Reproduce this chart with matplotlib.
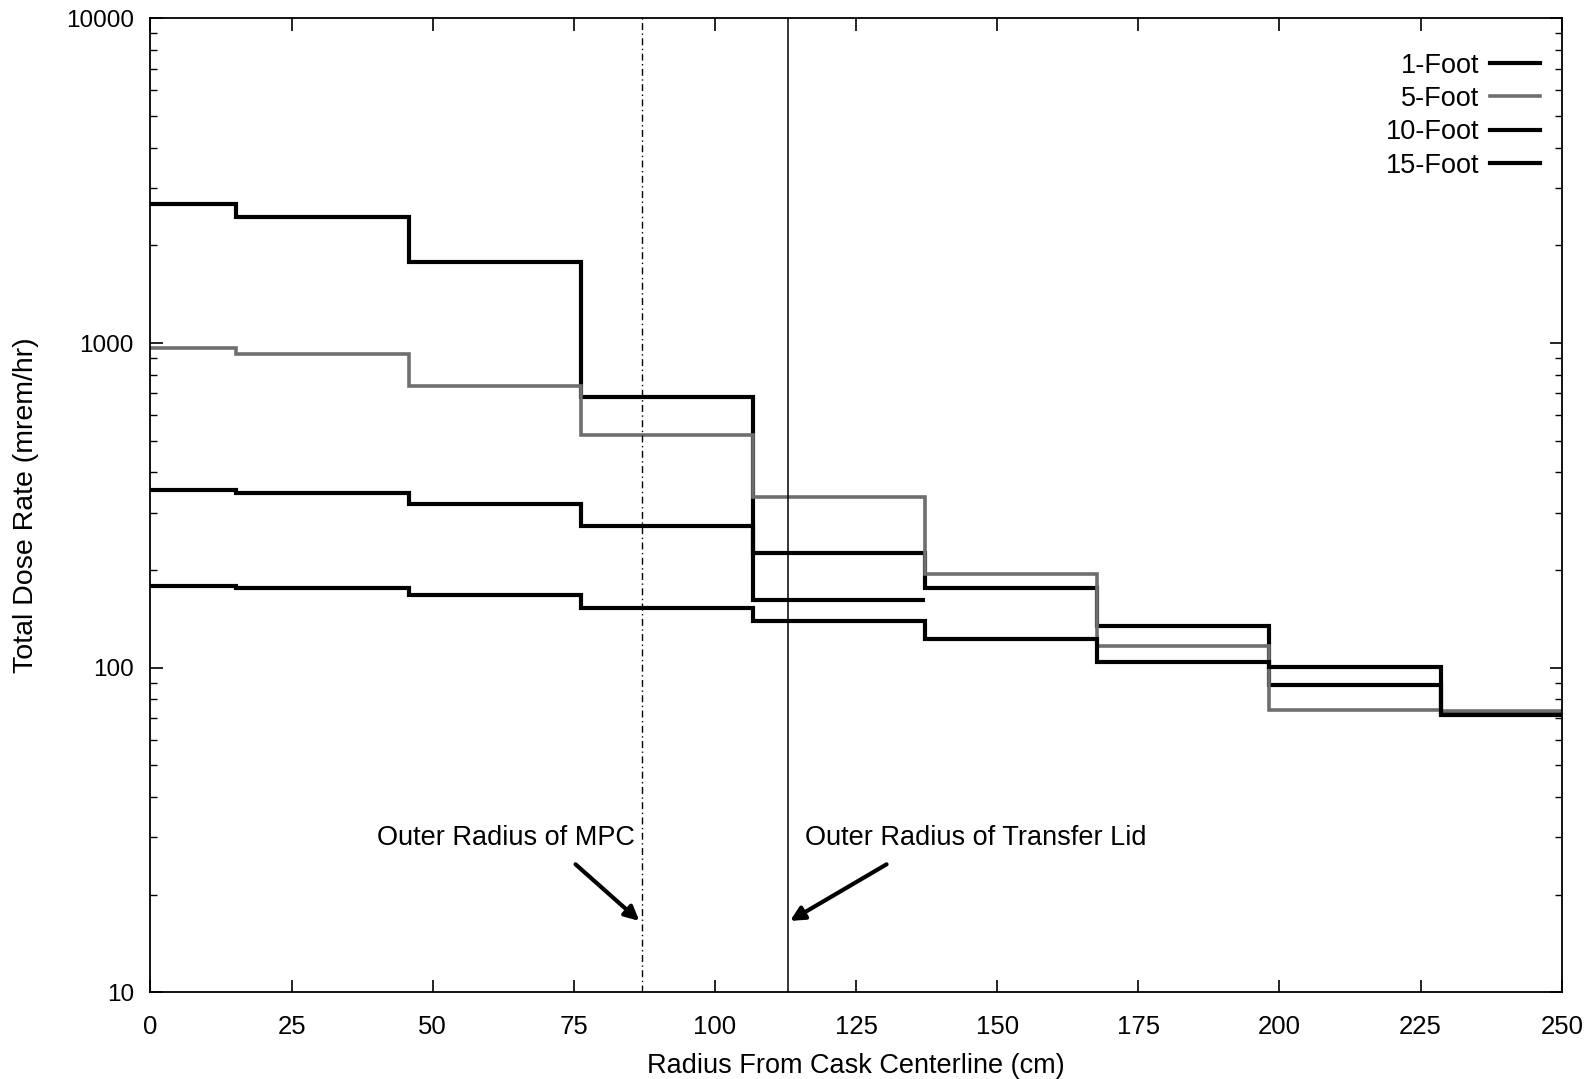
import numpy as np
import matplotlib
matplotlib.use("Agg")
import matplotlib.pyplot as plt
from matplotlib.ticker import LogLocator, NullFormatter

plt.rcParams['font.family'] = ['Liberation Sans', 'DejaVu Sans']

#### data ####
# bin edges (cm) - 6 inch first bin, then 12 inch bins
edges = [0, 15.24, 45.72, 76.2, 106.68, 137.16, 167.64, 198.12, 228.6, 250]

dose_1ft = [2683, 2445, 1782, 684, 226, 176, 134.5, 88.4, 72]
dose_5ft = [968, 925, 740, 521, 335, 195, 117, 74, 73.5]
dose_10ft = [353, 346, 320, 274, 161.5]
dose_15ft = [178.6, 176.3, 167.7, 152.4, 139, 123, 104.4, 100.7, 71.5]

mpc_radius = 87.1
lid_radius = 113.0

xticks = [0, 25, 50, 75, 100, 125, 150, 175, 200, 225, 250]
yticks = [10, 100, 1000, 10000]
ytick_labels = ["10", "100", "1000", "10000"]

#### plot ####
fig = plt.figure(figsize=(15.92, 10.79), dpi=100)
ax = fig.add_axes([0.0945, 0.0803, 0.8865, 0.9026])

ax.stairs(dose_1ft, edges, baseline=None, color='black', lw=3.0, label="1-Foot")
ax.stairs(dose_5ft, edges, baseline=None, color='#6e6e6e', lw=2.6, label="5-Foot")
ax.stairs(dose_10ft, edges[:len(dose_10ft) + 1], baseline=None, color='black', lw=3.0, label="10-Foot")
ax.stairs(dose_15ft, edges, baseline=None, color='black', lw=3.0, label="15-Foot")

ax.axvline(mpc_radius, color='black', lw=1.0, linestyle=(0, (5, 2.5, 1, 2.5)))
ax.axvline(lid_radius, color='black', lw=1.1)

txt_size = 19.5
ax.text(63, 29.9, "Outer Radius of MPC", fontsize=txt_size, ha='center', va='center')
ax.text(146.2, 29.9, "Outer Radius of Transfer Lid", fontsize=txt_size, ha='center', va='center')
arrow = dict(arrowstyle='-|>', lw=3, color='black', mutation_scale=21, shrinkA=0, shrinkB=0)
ax.annotate("", xy=(86.6, 16.6), xytext=(75.3, 24.8), arrowprops=arrow)
ax.annotate("", xy=(113.3, 16.6), xytext=(130.4, 24.8), arrowprops=arrow)

ax.set_yscale('log')
ax.set_xlim(0, 250)
ax.set_ylim(10, 10000)
ax.set_xticks(xticks)
ax.set_yticks(yticks)
ax.set_yticklabels(ytick_labels)
ax.yaxis.set_minor_locator(LogLocator(base=10, subs=np.arange(2, 10)))
ax.yaxis.set_minor_formatter(NullFormatter())

ax.tick_params(which='both', direction='in', top=True, right=True)
ax.tick_params(which='major', length=9, width=1.2)
ax.tick_params(which='minor', length=5, width=1.0)
ax.tick_params(axis='x', pad=16, labelsize=18.5)
ax.tick_params(axis='y', pad=12, labelsize=17.5)
for s in ax.spines.values():
  s.set_linewidth(1.3)

ax.set_xlabel("Radius From Cask Centerline (cm)", fontsize=txt_size)
ax.set_ylabel("Total Dose Rate (mrem/hr)", fontsize=20.5)
ax.xaxis.set_label_coords(0.5, -0.062)
ax.yaxis.set_label_coords(-0.079, 0.5)

ax.legend(loc='upper right', bbox_to_anchor=(1.002, 0.99), frameon=False, markerfirst=False,
          fontsize=txt_size, handlelength=1.85, labelspacing=0.27, handletextpad=0.4)

plt.savefig("out.png", dpi=100)
